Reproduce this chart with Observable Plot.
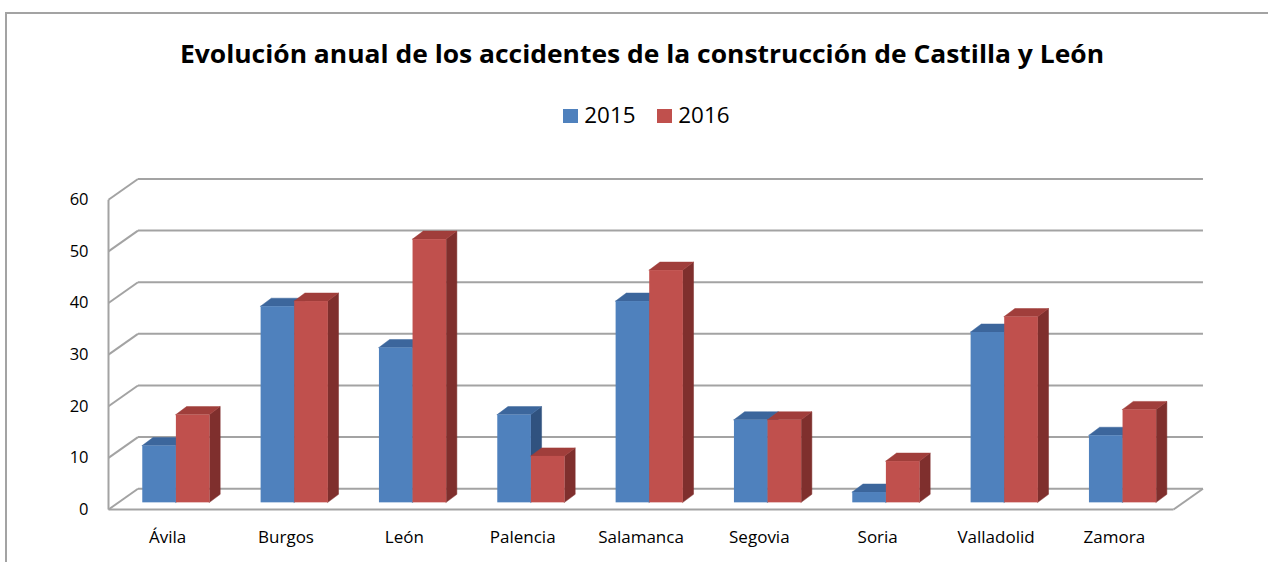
<!DOCTYPE html>
<html>
<head>
<meta charset="utf-8">
<script src="https://cdn.jsdelivr.net/npm/d3@7"></script>
<script src="https://cdn.jsdelivr.net/npm/@observablehq/plot@0.6"></script>
<style>
  body { margin: 0; background: #fff; }
  #frame { position: relative; width: 1268px; height: 562px; overflow: hidden; font-family: "Open Sans", "Noto Sans", sans-serif; color: #000; background: #fff; }
  .bt { position: absolute; left: 5px; top: 12px; width: 1263px; height: 2px; background: #a3a3a3; }
  .bl { position: absolute; left: 5px; top: 12px; width: 2px; height: 550px; background: #a3a3a3; }
  #title { position: absolute; top: 40.6px; left: 180px; white-space: nowrap; font-weight: 700; font-size: 25.6px; line-height: 25.6px; transform-origin: 0 0; }
  #legend { position: absolute; top: 0; left: 0; }
  .sw { position: absolute; width: 14.4px; height: 14px; }
  .lt { position: absolute; font-size: 22.4px; line-height: 22.4px; white-space: nowrap; }
  #chart { position: absolute; left: 0; top: 150px; }
</style>
</head>
<body>
<div id="frame">
  <div class="bt"></div><div class="bl"></div>
  <div id="title">Evolución anual de los accidentes de la construcción de Castilla y León</div>
  <div id="legend"></div>
  <div id="chart"></div>
</div>
<script>
// ---- data ----
const regions = ["Ávila", "Burgos", "León", "Palencia", "Salamanca", "Segovia", "Soria", "Valladolid", "Zamora"];
const years = ["2015", "2016"];
const values2015 = [11, 38, 30, 17, 39, 16, 2, 33, 13];
const values2016 = [17, 39, 51, 9, 45, 16, 8, 36, 18];
const yTicks = [0, 10, 20, 30, 40, 50, 60];

// ---- styles ----
const frontColors = ["#4f81bd", "#c0504d"];
const topColors = ["#3c669c", "#a03e3b"];
const sideColors = ["#30527f", "#7f2f2d"];
const gridColor = "#a3a3a3";

// ---- 3D geometry (in data units of the scales) ----
const DX = 0.249, DY = 4.03;        // depth of the walls
const B0 = 0.32;                    // bar front at this fraction of depth
const BDX = 0.0904, BDY = 1.55;     // bar depth
const PAIR0 = 0.21, BW = 0.284;     // bar offset & width inside category

const series = [values2015, values2016];

function barsFor(s) {
  return series[s].map((v, i) => {
    const x1 = i + PAIR0 + s * BW + B0 * DX;
    const x2 = x1 + BW;
    const y1 = B0 * DY;
    const y2 = y1 + v;
    return {id: regions[i], x1, x2, y1, y2, v};
  });
}
function sidePts(bars) {
  return bars.flatMap(b => [
    {id: b.id, x: b.x2, lo: b.y1, hi: b.y2},
    {id: b.id, x: b.x2 + BDX, lo: b.y1 + BDY, hi: b.y2 + BDY}
  ]);
}
function topPts(bars) {
  return bars.flatMap(b => [
    {id: b.id, x: b.x1, lo: b.y2, hi: b.y2},
    {id: b.id, x: b.x1 + BDX, lo: b.y2, hi: b.y2 + BDY},
    {id: b.id, x: b.x2, lo: b.y2, hi: b.y2 + BDY},
    {id: b.id, x: b.x2 + BDX, lo: b.y2 + BDY, hi: b.y2 + BDY}
  ]);
}

const n = regions.length;
const backGrid = yTicks.map(v => ({x1: DX, x2: n + DX, y1: v + DY, y2: v + DY}));
const sideGrid = yTicks.map(v => ({x1: 0, x2: DX, y1: v, y2: v + DY}));
const frame = [
  {x1: 0, x2: n, y1: 0, y2: 0},
  {x1: n, x2: n + DX, y1: 0, y2: DY},
  {x1: 0, x2: 0, y1: 0, y2: yTicks[yTicks.length - 1]}
];

const barMarks = [];
[0, 1].forEach(s => {
  const bars = barsFor(s);
  barMarks.push(Plot.areaY(sidePts(bars), {x: "x", y1: "lo", y2: "hi", z: "id", fill: sideColors[s], stroke: sideColors[s], strokeWidth: 0.5}));
  barMarks.push(Plot.areaY(topPts(bars), {x: "x", y1: "lo", y2: "hi", z: "id", fill: topColors[s], stroke: topColors[s], strokeWidth: 0.5}));
  barMarks.push(Plot.rect(bars, {x1: "x1", x2: "x2", y1: "y1", y2: "y2", fill: frontColors[s]}));
});

const chart = Plot.plot({
  width: 1268,
  height: 412,
  marginLeft: 108,
  marginRight: 95,
  marginTop: 49.3,
  marginBottom: 53,
  style: {fontFamily: "'Open Sans', 'Noto Sans', sans-serif", fontSize: "16.5px", color: "#000", background: "transparent", overflow: "visible"},
  x: {type: "linear", domain: [0, n]},
  y: {type: "linear", domain: [0, 60]},
  marks: [
    Plot.link(backGrid, {x1: "x1", x2: "x2", y1: "y1", y2: "y2", stroke: gridColor, strokeWidth: 2}),
    Plot.link(sideGrid, {x1: "x1", x2: "x2", y1: "y1", y2: "y2", stroke: gridColor, strokeWidth: 2}),
    Plot.link(frame, {x1: "x1", x2: "x2", y1: "y1", y2: "y2", stroke: gridColor, strokeWidth: 2}),
    ...barMarks,
    Plot.axisY(yTicks, {tickSize: 0, tickPadding: 20, fontSize: 16.5}),
    Plot.axisX(regions.map((d, i) => i + 0.5), {tickSize: 0, tickPadding: 21, fontSize: 17, tickFormat: d => regions[Math.floor(d)]})
  ]
});
document.getElementById("chart").appendChild(chart);

// legend
const legend = document.getElementById("legend");
years.forEach((y, k) => {
  const x0 = 563.3 + k * 94;
  const sw = document.createElement("div");
  sw.className = "sw";
  sw.style.left = x0 + "px";
  sw.style.top = "109.3px";
  sw.style.background = frontColors[k];
  legend.appendChild(sw);
  const t = document.createElement("div");
  t.className = "lt";
  t.textContent = y;
  t.style.left = (x0 + 21) + "px";
  t.style.top = "104.4px";
  legend.appendChild(t);
});

// fit title width to the reference
const title = document.getElementById("title");
const w = title.getBoundingClientRect().width;
title.style.transform = `scaleX(${924 / w})`;
</script>
</body>
</html>
